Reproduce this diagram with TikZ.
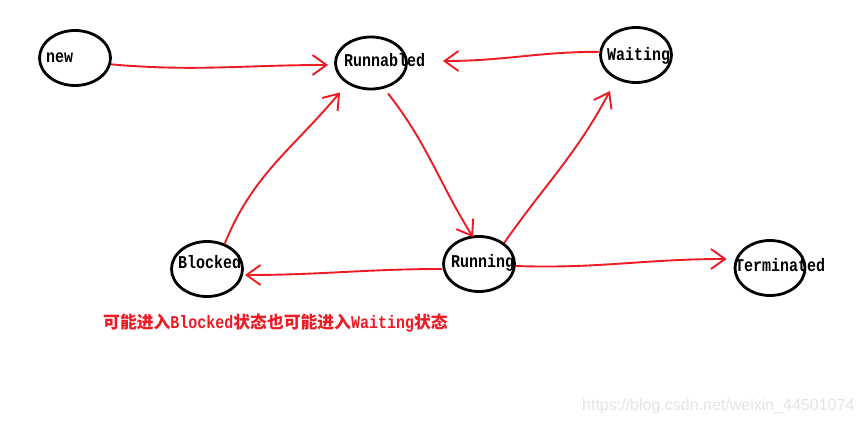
\documentclass[tikz,border=0pt]{standalone}
\usepackage{fontspec}
\setmainfont{Liberation Serif}
\newfontfamily\monof{Liberation Mono}
\newfontfamily\cjkf{Noto Sans CJK SC}
\newfontfamily\wmf{Liberation Sans}
\usetikzlibrary{shapes.geometric,arrows.meta}
\definecolor{pred}{RGB}{237,28,36}
\definecolor{wmgray}{RGB}{228,228,228}
\newcommand{\tallt}[1]{\scalebox{1}[1.2]{#1}}
\begin{document}
\begin{tikzpicture}[x=1pt,y=-1pt,
  st/.style={ellipse,draw=black,line width=2.8pt,minimum width=71pt,minimum height=55pt,inner sep=0pt},
  lbl/.style={anchor=base west,inner sep=0pt,font=\monof\bfseries\fontsize{15}{15}\selectfont},
  arr/.style={draw=pred,line width=1.9pt,-{Straight Barb[length=14pt,width=20pt,line width=1.9pt]}}]
\useasboundingbox[fill=white] (0,0) rectangle (863,425);
% states
\node[st] (new) at (75,58) {};
\node[st,minimum height=52pt] (run) at (371,63) {};
\node[st] (wait) at (636,55) {};
\node[st] (blk) at (207,269) {};
\node[st] (runn) at (479,264) {};
\node[st,minimum width=70pt] (term) at (770,268) {};
% labels
\node[lbl] (newT) at (46,63) {\tallt{new}};
\node[lbl] (runT) at (344,67) {\tallt{Runnabled}};
\node[lbl] (waitT) at (607,61) {\tallt{Waiting}};
\node[lbl] (blkT) at (178,269) {\tallt{Blocked}};
\node[lbl] (runnT) at (451,267) {\tallt{Running}};
\node[lbl] (termT) at (735,271) {\tallt{Terminated}};
% transitions
\draw[arr] (new.-10) to[out=-5,in=180] ([xshift=-6pt,yshift=-2pt]run.west);
\draw[arr] (wait.175) to[out=180,in=0] ([xshift=35pt,yshift=2pt]run.east);
\draw[arr] ([xshift=17pt,yshift=-3pt]run.south) to[out=-52,in=122] ([xshift=-6pt,yshift=-2pt]runn.north);
\draw[arr] (blk.55) to[out=68,in=-130] ([xshift=-31pt,yshift=-2pt]run.south);
\draw[arr] (runn.40) to[out=55,in=-118] ([xshift=-26pt,yshift=-7pt]wait.south);
\draw[arr] ([yshift=-5pt]runn.west) to[out=180,in=0] ([xshift=1pt,yshift=-6pt]blk.east);
\draw[arr] ([yshift=-2pt]runn.east) to[out=-2,in=180] ([xshift=-7pt,yshift=9pt]term.west);
% note
\node[anchor=base west,inner sep=0pt,text=pred] (note) at (103,328)
  {{\cjkf\bfseries\fontsize{16.8}{16.8}\selectfont 可能进入}{\monof\bfseries\fontsize{15}{15}\selectfont\tallt{Blocked}}{\cjkf\bfseries\fontsize{16.8}{16.8}\selectfont 状态也可能进入}{\monof\bfseries\fontsize{15}{15}\selectfont\tallt{Waiting}}{\cjkf\bfseries\fontsize{16.8}{16.8}\selectfont 状态}};
% watermark
\node[anchor=base west,inner sep=0pt,text=wmgray,font=\wmf\fontsize{16}{16}\selectfont] (wm) at (582,410) {https://blog.csdn.net/weixin\_44501074};
\end{tikzpicture}
\end{document}
